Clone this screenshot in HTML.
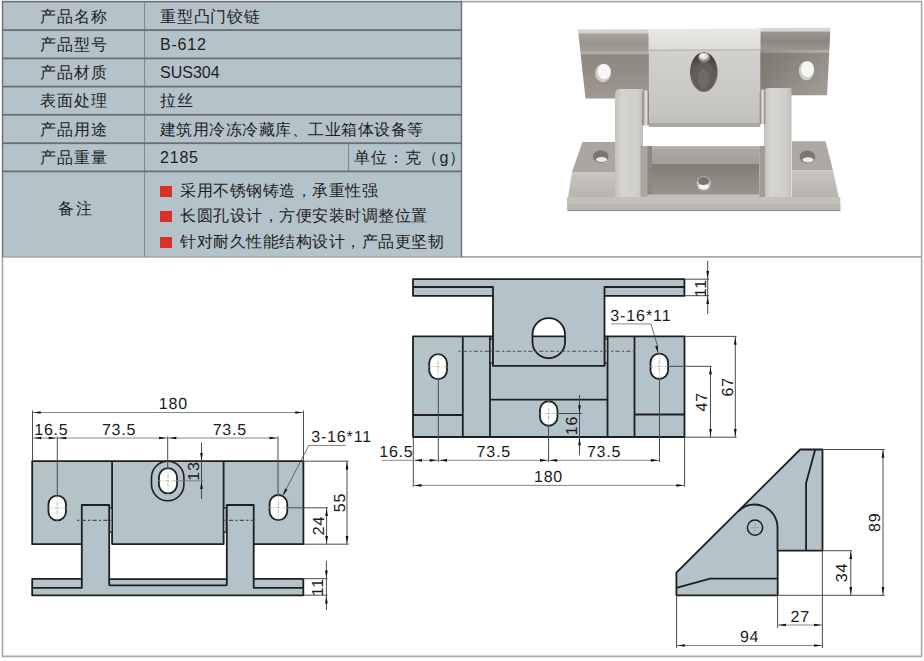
<!DOCTYPE html>
<html><head><meta charset="utf-8">
<style>
*{margin:0;padding:0;box-sizing:border-box}
html,body{width:924px;height:661px;overflow:hidden;background:#fff}
body{position:relative;font-family:"Liberation Sans",sans-serif;color:#1e1e1e;font-weight:350}
svg{position:absolute;left:0;top:0}
.c1{position:absolute;left:2px;width:142px;text-align:center;font-size:16px;white-space:nowrap;letter-spacing:1px;text-indent:1px;padding-top:1px}
.c2{position:absolute;left:160px;font-size:16px;white-space:nowrap;letter-spacing:0.8px;padding-top:1px}
.sq{display:inline-block;width:12px;height:11px;background:#d8322a;margin-right:8px;vertical-align:-1px}
</style></head><body>
<svg width="924" height="661" viewBox="0 0 924 661">
<!-- table background -->
<rect x="2" y="1.5" width="460" height="255.5" fill="#b4c2c9"/>
<!-- outer frame -->
<g fill="none" stroke="#a9a9a9" stroke-width="1.6">
<line x1="461" y1="1.6" x2="922" y2="1.6"/>
<line x1="921.6" y1="1" x2="921.6" y2="656.5"/>
<line x1="2.5" y1="256.8" x2="2.5" y2="656.5"/>
<line x1="2" y1="656.4" x2="922" y2="656.4"/>
<line x1="2" y1="256.9" x2="922" y2="256.9"/>
</g>
<!-- table lines -->
<g fill="#868b8f">
<rect x="144" y="1" width="1.1" height="256"/>
<rect x="348" y="143" width="1.1" height="28"/>
</g>
<g fill="#6a6f73">
<rect x="2" y="0.8" width="460" height="1.6"/>
<rect x="2" y="29.2" width="460" height="1.8"/>
<rect x="2" y="57.5" width="460" height="1.8"/>
<rect x="2" y="85.7" width="460" height="1.8"/>
<rect x="2" y="113.9" width="460" height="1.8"/>
<rect x="2" y="142.3" width="460" height="1.8"/>
<rect x="2" y="170.5" width="460" height="1.8"/>
<rect x="1.8" y="1" width="1.4" height="256"/>
<rect x="460.8" y="1" width="1.4" height="256"/>
</g>
<g font-family="Liberation Sans, sans-serif" text-rendering="geometricPrecision">
<defs>
<linearGradient id="gFlL" x1="0" y1="0" x2="0" y2="1">
 <stop offset="0" stop-color="#a9a49c"/><stop offset="0.15" stop-color="#98938b"/><stop offset="0.27" stop-color="#a29d95"/><stop offset="0.3" stop-color="#bab6af"/><stop offset="0.34" stop-color="#8d877f"/><stop offset="0.6" stop-color="#928d85"/><stop offset="1" stop-color="#9e9992"/></linearGradient>
<linearGradient id="gFlR" x1="0" y1="0" x2="0" y2="1">
 <stop offset="0" stop-color="#9a958e"/><stop offset="0.15" stop-color="#8c8780"/><stop offset="0.28" stop-color="#99948c"/><stop offset="0.31" stop-color="#b3afa8"/><stop offset="0.35" stop-color="#8a847c"/><stop offset="0.6" stop-color="#8f8a82"/><stop offset="1" stop-color="#9a958e"/></linearGradient>
<linearGradient id="gFlRh" x1="0" y1="0" x2="1" y2="0">
 <stop offset="0" stop-color="#6a645c" stop-opacity="0.45"/><stop offset="0.45" stop-color="#6a645c" stop-opacity="0.1"/><stop offset="1" stop-color="#ffffff" stop-opacity="0.1"/></linearGradient>
<linearGradient id="gBlk" x1="0" y1="0" x2="0" y2="1">
 <stop offset="0" stop-color="#d3d1ce"/><stop offset="0.5" stop-color="#cbc9c6"/><stop offset="0.85" stop-color="#c6c4c1"/><stop offset="1" stop-color="#bdbbb7"/></linearGradient>
<linearGradient id="gWash" x1="0" y1="0" x2="1" y2="0">
 <stop offset="0" stop-color="#6d6963"/><stop offset="0.3" stop-color="#c9c6c2"/><stop offset="0.6" stop-color="#e2e0dd"/><stop offset="1" stop-color="#77736d"/></linearGradient>
<linearGradient id="gTop" x1="0" y1="0" x2="0" y2="1">
 <stop offset="0" stop-color="#eae8e5"/><stop offset="1" stop-color="#dcdad6"/></linearGradient>
<linearGradient id="gLeg" x1="0" y1="0" x2="1" y2="0">
 <stop offset="0" stop-color="#c4c1bc"/><stop offset="0.25" stop-color="#d6d4d0"/><stop offset="0.8" stop-color="#d0cecb"/><stop offset="1" stop-color="#bfbcb7"/></linearGradient>
<linearGradient id="gFloor" x1="0" y1="0" x2="0" y2="1">
 <stop offset="0" stop-color="#817c75"/><stop offset="1" stop-color="#9a958e"/></linearGradient>
<linearGradient id="gBack" x1="0" y1="0" x2="0" y2="1">
 <stop offset="0" stop-color="#bdb9b3"/><stop offset="0.2" stop-color="#aca8a2"/><stop offset="1" stop-color="#a29e98"/></linearGradient>
<linearGradient id="gBev" x1="0" y1="0" x2="0" y2="1">
 <stop offset="0" stop-color="#c9c6c1"/><stop offset="1" stop-color="#b2aea8"/></linearGradient>
<linearGradient id="gSlot" x1="0" y1="0" x2="0" y2="1">
 <stop offset="0" stop-color="#3a3632"/><stop offset="0.35" stop-color="#58534d"/><stop offset="1" stop-color="#77726b"/></linearGradient>
</defs>
<polygon points="578,29.5 650,29.2 650,33.5 578.3,33.5" fill="#d6d3ce"/>
<polygon points="757.7,28 830.3,27.7 830.3,31.8 757.7,31.8" fill="#d9d6d1"/>
<polygon points="578.3,33.3 649.5,33.3 649.5,98.5 585.5,98.5" fill="url(#gFlL)"/>
<polygon points="757.7,31.6 830.3,31.6 827.1,95.3 757.7,95.3" fill="url(#gFlR)"/>
<polygon points="757.7,50 830.3,50 827.1,95.3 757.7,95.3" fill="url(#gFlRh)"/>
<ellipse cx="603" cy="73" rx="7.9" ry="9.3" fill="#cfccc7"/>
<ellipse cx="604.2" cy="71.6" rx="6.6" ry="7.6" fill="#f6f6f6"/>
<ellipse cx="806.5" cy="70.6" rx="7.7" ry="9.7" fill="#cfccc7"/>
<ellipse cx="807.5" cy="69.2" rx="6.5" ry="8" fill="#f6f6f6"/>
<polygon points="648.5,29 760.5,28.5 760.5,50 648.5,50.5" fill="url(#gTop)"/>
<rect x="648.8" y="50" width="111.5" height="77" fill="url(#gBlk)"/>
<line x1="648.8" y1="50.3" x2="760.3" y2="49.8" stroke="#b0ada8" stroke-width="1"/>
<ellipse cx="703.8" cy="72.1" rx="13.8" ry="19.8" fill="url(#gSlot)"/>
<ellipse cx="703.8" cy="76.5" rx="11" ry="14.5" fill="#625d56"/>
<ellipse cx="703.5" cy="79" rx="6" ry="10" fill="#6e6962"/>
<ellipse cx="704.2" cy="57.5" rx="6" ry="5" fill="#8d8984"/>
<ellipse cx="703.6" cy="56.3" rx="4.6" ry="3.6" fill="#dcdbd9"/>
<ellipse cx="703" cy="55.6" rx="2.4" ry="1.8" fill="#f7f7f7"/>
<rect x="649" y="123" width="111" height="4" fill="#aaa6a0"/>
<polygon points="646,146 765,146 765,164 646,164" fill="url(#gBack)"/>
<polygon points="646,164 765,164 765,197 646,197" fill="url(#gFloor)"/>
<polygon points="646,146 652,146 652,197 646,197" fill="#8c8780"/>
<rect x="646" y="194.5" width="119" height="3" fill="#c2bfba"/>
<polygon points="759,146 765,146 765,197 759,197" fill="#b1ada7"/>
<ellipse cx="703.7" cy="183.5" rx="7" ry="7.3" fill="#c4c1bc"/>
<ellipse cx="703.7" cy="186.5" rx="5" ry="2.8" fill="#f3f3f3"/>
<ellipse cx="703.7" cy="181" rx="5.5" ry="4" fill="#77726b"/>
<polygon points="582.5,142 616,142 616,172 572,172" fill="#aaa6a0"/>
<polygon points="572,172 616,172 616,204 567,204" fill="url(#gBev)"/>
<ellipse cx="600.7" cy="156.5" rx="7.8" ry="6.2" fill="#7a756e"/>
<ellipse cx="601.5" cy="159.5" rx="5.5" ry="2.6" fill="#ebeae8"/>
<polygon points="792,141.2 825.5,141.2 833,170.6 792,170.6" fill="#aca8a2"/>
<polygon points="792,170.6 833,170.6 840.3,204 792,204" fill="url(#gBev)"/>
<ellipse cx="807.4" cy="156.8" rx="7.8" ry="6.4" fill="#7a756e"/>
<ellipse cx="808" cy="159.8" rx="5.5" ry="2.6" fill="#ebeae8"/>
<polygon points="567,197 840.3,197 840.3,210.5 567.5,210.5" fill="#c3c0bb"/>
<polygon points="567,204 840.3,204 840.3,210.5 567.5,210.5" fill="#bab7b2"/>
<line x1="567.5" y1="210.6" x2="840.3" y2="210.6" stroke="#8a8680" stroke-width="1"/>
<path d="M615,197 L615,94 Q615,89 620,89 L643,89 L643,197 Z" fill="url(#gLeg)"/>
<rect x="640.5" y="146" width="7" height="51" fill="#a9a59f"/>
<path d="M764,197 L764,93 Q764,88 769,88 L791.5,88 L791.5,197 Z" fill="url(#gLeg)"/>
<rect x="760" y="146" width="5" height="51" fill="#9f9b95"/>
<rect x="642.5" y="90.5" width="6.5" height="35" rx="1.5" fill="url(#gWash)"/>
<rect x="759.8" y="89.5" width="5.5" height="35" rx="1.5" fill="url(#gWash)"/>
<polygon points="32.2,461.2 303.4,461.2 303.4,544.2 32.2,544.2" fill="#b4c2c9" stroke="#1f1f1f" stroke-width="1.8" stroke-linejoin="round"/>
<rect x="109.5" y="532.3" width="2.2" height="12.8" fill="#fff"/>
<rect x="224.2" y="532.3" width="2.2" height="12.8" fill="#fff"/>
<line x1="112.1" y1="461.2" x2="112.1" y2="544.2" stroke="#1f1f1f" stroke-width="1.8" />
<line x1="223.6" y1="461.2" x2="223.6" y2="544.2" stroke="#1f1f1f" stroke-width="1.8" />
<rect x="109.3" y="508" width="2.8" height="24.2" fill="#b4c2c9" stroke="#1f1f1f" stroke-width="1.2"/>
<rect x="223.6" y="508" width="2.8" height="24.2" fill="#b4c2c9" stroke="#1f1f1f" stroke-width="1.2"/>
<polygon points="32.2,578.8 81.8,578.8 81.8,505 109.2,505 109.2,579.2 226.8,579.2 226.8,505 253.7,505 253.7,578.8 303.3,578.8 303.3,595.3 32.2,595.3" fill="#b4c2c9" stroke="#1f1f1f" stroke-width="1.8" stroke-linejoin="round"/>
<line x1="32.2" y1="587.9" x2="81.8" y2="587.9" stroke="#1f1f1f" stroke-width="1.8" />
<line x1="81.8" y1="578" x2="81.8" y2="588.4" stroke="#1f1f1f" stroke-width="1.8" />
<line x1="109.2" y1="579" x2="109.2" y2="585.5" stroke="#1f1f1f" stroke-width="1.8" />
<line x1="109.2" y1="585.3" x2="226.8" y2="585.3" stroke="#1f1f1f" stroke-width="1.8" />
<line x1="226.8" y1="579" x2="226.8" y2="585.5" stroke="#1f1f1f" stroke-width="1.8" />
<line x1="253.7" y1="578" x2="253.7" y2="588.4" stroke="#1f1f1f" stroke-width="1.8" />
<line x1="253.7" y1="587.9" x2="303.3" y2="587.9" stroke="#1f1f1f" stroke-width="1.8" />
<line x1="77.1" y1="520.4" x2="111" y2="520.4" stroke="#4e4e4e" stroke-width="1.1" stroke-dasharray="2.2 2.2 4.3 2.2"/>
<line x1="224.5" y1="520.4" x2="257.2" y2="520.4" stroke="#4e4e4e" stroke-width="1.1" stroke-dasharray="2.2 2.2 4.3 2.2"/>
<rect x="151.5" y="461.3" width="32.4" height="39.5" rx="16.2" ry="16.2" fill="#b4c2c9" stroke="#1f1f1f" stroke-width="1.6"/>
<rect x="158.90" y="468.15" width="18.2" height="25.3" rx="9.10" ry="9.10" fill="#fff" stroke="#1f1f1f" stroke-width="1.8"/>
<line x1="157.40" y1="480.8" x2="178.60" y2="480.8" stroke="#9a9a9a" stroke-width="0.7" stroke-dasharray="4 1.5 1 1.5"/>
<line x1="168.0" y1="466.65" x2="168.0" y2="494.95" stroke="#9a9a9a" stroke-width="0.7" stroke-dasharray="4 1.5 1 1.5"/>
<rect x="48.45" y="495.60" width="17.5" height="24.8" rx="8.75" ry="8.75" fill="#fff" stroke="#1f1f1f" stroke-width="1.8"/>
<line x1="46.95" y1="508.0" x2="67.45" y2="508.0" stroke="#9a9a9a" stroke-width="0.7" stroke-dasharray="4 1.5 1 1.5"/>
<line x1="57.2" y1="494.10" x2="57.2" y2="521.90" stroke="#9a9a9a" stroke-width="0.7" stroke-dasharray="4 1.5 1 1.5"/>
<rect x="269.55" y="495.00" width="17.7" height="25.2" rx="8.85" ry="8.85" fill="#fff" stroke="#1f1f1f" stroke-width="1.8"/>
<line x1="268.05" y1="507.6" x2="288.75" y2="507.6" stroke="#9a9a9a" stroke-width="0.7" stroke-dasharray="4 1.5 1 1.5"/>
<line x1="278.4" y1="493.50" x2="278.4" y2="521.70" stroke="#9a9a9a" stroke-width="0.7" stroke-dasharray="4 1.5 1 1.5"/>
<line x1="32.5" y1="410.5" x2="32.5" y2="461" stroke="#4a4a4a" stroke-width="1.0" />
<line x1="303.5" y1="410.5" x2="303.5" y2="461" stroke="#4a4a4a" stroke-width="1.0" />
<line x1="32.5" y1="412.5" x2="303.5" y2="412.5" stroke="#7a7a7a" stroke-width="0.9" />
<polygon points="33.20,412.50 40.70,411.15 40.70,413.85" fill="#111"/>
<polygon points="302.80,412.50 295.30,413.85 295.30,411.15" fill="#111"/>
<text x="173.3" y="409.2" text-anchor="middle" font-size="16" letter-spacing="0.8" fill="#1a1a1a">180</text>
<line x1="32.5" y1="438" x2="278" y2="438" stroke="#7a7a7a" stroke-width="0.9" />
<line x1="57.3" y1="436.5" x2="57.3" y2="496" stroke="#4a4a4a" stroke-width="1.0" />
<line x1="167.7" y1="436.5" x2="167.7" y2="468" stroke="#4a4a4a" stroke-width="1.0" />
<line x1="278.0" y1="436.5" x2="278.0" y2="495" stroke="#4a4a4a" stroke-width="1.0" />
<polygon points="33.80,438.00 41.30,436.65 41.30,439.35" fill="#111"/>
<polygon points="56.20,438.00 48.70,439.35 48.70,436.65" fill="#111"/>
<polygon points="58.60,438.00 66.10,436.65 66.10,439.35" fill="#111"/>
<polygon points="166.60,438.00 159.10,439.35 159.10,436.65" fill="#111"/>
<polygon points="168.80,438.00 176.30,436.65 176.30,439.35" fill="#111"/>
<polygon points="277.00,438.00 269.50,439.35 269.50,436.65" fill="#111"/>
<text x="51.4" y="434.7" text-anchor="middle" font-size="16" letter-spacing="0.8" fill="#1a1a1a">16.5</text>
<text x="119.1" y="434.7" text-anchor="middle" font-size="16" letter-spacing="0.8" fill="#1a1a1a">73.5</text>
<text x="229.8" y="434.7" text-anchor="middle" font-size="16" letter-spacing="0.8" fill="#1a1a1a">73.5</text>
<line x1="201.5" y1="442.8" x2="201.5" y2="499" stroke="#4a4a4a" stroke-width="1.0" />
<line x1="177" y1="480.8" x2="203.6" y2="480.8" stroke="#7a7a7a" stroke-width="0.9" />
<polygon points="201.50,460.40 200.15,452.90 202.85,452.90" fill="#111"/>
<polygon points="201.50,481.60 202.85,489.10 200.15,489.10" fill="#111"/>
<text transform="translate(198.7,471) rotate(-90)" text-anchor="middle" font-size="16" letter-spacing="0.8" fill="#1a1a1a">13</text>
<text x="311.2" y="441.6" text-anchor="start" font-size="16" letter-spacing="0.85" fill="#1a1a1a">3-16*11</text>
<line x1="309" y1="445.5" x2="345.7" y2="445.5" stroke="#7a7a7a" stroke-width="0.9" />
<line x1="309" y1="445.1" x2="283.6" y2="494.2" stroke="#4a4a4a" stroke-width="0.8" />
<polygon points="282.80,495.80 285.05,488.52 287.45,489.76" fill="#111"/>
<line x1="303.5" y1="461.2" x2="348.6" y2="461.2" stroke="#4a4a4a" stroke-width="1.0" />
<line x1="303.5" y1="544.2" x2="348.6" y2="544.2" stroke="#4a4a4a" stroke-width="1.0" />
<line x1="347" y1="461.2" x2="347" y2="544.2" stroke="#4a4a4a" stroke-width="1.0" />
<polygon points="347.00,462.00 348.35,469.50 345.65,469.50" fill="#111"/>
<polygon points="347.00,543.40 345.65,535.90 348.35,535.90" fill="#111"/>
<text transform="translate(344.7,502.5) rotate(-90)" text-anchor="middle" font-size="16" letter-spacing="0.8" fill="#1a1a1a">55</text>
<line x1="287.3" y1="507.8" x2="328" y2="507.8" stroke="#4a4a4a" stroke-width="1.0" />
<line x1="326.6" y1="507.8" x2="326.6" y2="544.2" stroke="#4a4a4a" stroke-width="1.0" />
<polygon points="326.60,508.60 327.95,516.10 325.25,516.10" fill="#111"/>
<polygon points="326.60,543.40 325.25,535.90 327.95,535.90" fill="#111"/>
<text transform="translate(323.6,525.6) rotate(-90)" text-anchor="middle" font-size="16" letter-spacing="0.8" fill="#1a1a1a">24</text>
<line x1="303.3" y1="578.7" x2="327.5" y2="578.7" stroke="#4a4a4a" stroke-width="1.0" />
<line x1="303.3" y1="595.2" x2="327.5" y2="595.2" stroke="#4a4a4a" stroke-width="1.0" />
<line x1="326.4" y1="560.8" x2="326.4" y2="610" stroke="#4a4a4a" stroke-width="1.0" />
<polygon points="326.40,578.00 325.05,570.50 327.75,570.50" fill="#111"/>
<polygon points="326.40,596.00 327.75,603.50 325.05,603.50" fill="#111"/>
<text transform="translate(323.1,587.2) rotate(-90)" text-anchor="middle" font-size="16" letter-spacing="0.8" fill="#1a1a1a">11</text>
<polygon points="413,336.4 684.5,336.4 684.5,437 413,437" fill="#b4c2c9" stroke="#1f1f1f" stroke-width="1.8" stroke-linejoin="round"/>
<line x1="462.8" y1="336.4" x2="462.8" y2="437" stroke="#1f1f1f" stroke-width="1.8" />
<line x1="490" y1="336.4" x2="490" y2="437" stroke="#1f1f1f" stroke-width="1.8" />
<line x1="607.5" y1="336.4" x2="607.5" y2="437" stroke="#1f1f1f" stroke-width="1.8" />
<line x1="634.5" y1="336.4" x2="634.5" y2="437" stroke="#1f1f1f" stroke-width="1.8" />
<line x1="413" y1="415" x2="462.8" y2="415" stroke="#1f1f1f" stroke-width="1.8" />
<line x1="634.5" y1="414.5" x2="684.5" y2="414.5" stroke="#1f1f1f" stroke-width="1.8" />
<line x1="490" y1="399.7" x2="607.5" y2="399.7" stroke="#1f1f1f" stroke-width="1.8" />
<rect x="490" y="339" width="3" height="24" fill="#b4c2c9" stroke="#1f1f1f" stroke-width="1.2"/>
<rect x="604.5" y="339" width="3" height="24" fill="#b4c2c9" stroke="#1f1f1f" stroke-width="1.2"/>
<polygon points="413,279.2 684.4,279.2 684.4,295.8 604.5,295.8 604.5,365.8 493,365.8 493,295.8 413,295.8" fill="#b4c2c9" stroke="#1f1f1f" stroke-width="1.8" stroke-linejoin="round"/>
<line x1="413" y1="287" x2="493" y2="287" stroke="#1f1f1f" stroke-width="1.8" />
<line x1="493" y1="286.2" x2="493" y2="296.5" stroke="#1f1f1f" stroke-width="1.8" />
<line x1="604.5" y1="287" x2="684.4" y2="287" stroke="#1f1f1f" stroke-width="1.8" />
<line x1="604.5" y1="286.2" x2="604.5" y2="296.5" stroke="#1f1f1f" stroke-width="1.8" />
<clipPath id="bs"><rect x="532.5" y="318.2" width="32.5" height="40" rx="16.25" ry="16.25"/></clipPath>
<rect x="532.5" y="318.2" width="32.5" height="18.2" fill="#fff" clip-path="url(#bs)"/>
<rect x="532.5" y="318.2" width="32.5" height="40" rx="16.25" ry="16.25" fill="none" stroke="#1f1f1f" stroke-width="1.8"/>
<line x1="532.5" y1="336.3" x2="565" y2="336.3" stroke="#1f1f1f" stroke-width="1.8" />
<line x1="458.4" y1="351.3" x2="637" y2="351.3" stroke="#4e4e4e" stroke-width="1.1" stroke-dasharray="2.2 2.2 4.3 2.2"/>
<rect x="429.20" y="354.20" width="17.8" height="25" rx="8.90" ry="8.90" fill="#fff" stroke="#1f1f1f" stroke-width="1.8"/>
<line x1="427.70" y1="366.7" x2="448.50" y2="366.7" stroke="#9a9a9a" stroke-width="0.7" stroke-dasharray="4 1.5 1 1.5"/>
<line x1="438.1" y1="352.70" x2="438.1" y2="380.70" stroke="#9a9a9a" stroke-width="0.7" stroke-dasharray="4 1.5 1 1.5"/>
<rect x="650.50" y="353.60" width="17.6" height="25.4" rx="8.80" ry="8.80" fill="#fff" stroke="#1f1f1f" stroke-width="1.8"/>
<line x1="649.00" y1="366.3" x2="669.60" y2="366.3" stroke="#9a9a9a" stroke-width="0.7" stroke-dasharray="4 1.5 1 1.5"/>
<line x1="659.3" y1="352.10" x2="659.3" y2="380.50" stroke="#9a9a9a" stroke-width="0.7" stroke-dasharray="4 1.5 1 1.5"/>
<rect x="539.95" y="401.25" width="17.5" height="24.5" rx="8.75" ry="8.75" fill="#fff" stroke="#1f1f1f" stroke-width="1.8"/>
<line x1="538.45" y1="413.5" x2="558.95" y2="413.5" stroke="#9a9a9a" stroke-width="0.7" stroke-dasharray="4 1.5 1 1.5"/>
<line x1="548.7" y1="399.75" x2="548.7" y2="427.25" stroke="#9a9a9a" stroke-width="0.7" stroke-dasharray="4 1.5 1 1.5"/>
<line x1="684.4" y1="279.2" x2="709" y2="279.2" stroke="#4a4a4a" stroke-width="1.0" />
<line x1="684.4" y1="295.7" x2="709" y2="295.7" stroke="#4a4a4a" stroke-width="1.0" />
<line x1="707.7" y1="261" x2="707.7" y2="313.9" stroke="#4a4a4a" stroke-width="1.0" />
<polygon points="707.70,278.50 706.35,271.00 709.05,271.00" fill="#111"/>
<polygon points="707.70,296.40 709.05,303.90 706.35,303.90" fill="#111"/>
<text transform="translate(706,288.1) rotate(-90)" text-anchor="middle" font-size="16" letter-spacing="0.8" fill="#1a1a1a">11</text>
<text x="610.3" y="320.8" text-anchor="start" font-size="16" letter-spacing="0.9" fill="#1a1a1a">3-16*11</text>
<line x1="611" y1="323.9" x2="651" y2="323.9" stroke="#7a7a7a" stroke-width="0.9" />
<line x1="651" y1="323.9" x2="657.5" y2="346" stroke="#4a4a4a" stroke-width="0.8" />
<polygon points="658.20,353.30 655.10,346.34 657.73,345.69" fill="#111"/>
<line x1="684.5" y1="336.4" x2="736.6" y2="336.4" stroke="#4a4a4a" stroke-width="1.0" />
<line x1="684.5" y1="437.2" x2="736.6" y2="437.2" stroke="#4a4a4a" stroke-width="1.0" />
<line x1="735.3" y1="336.4" x2="735.3" y2="437.2" stroke="#4a4a4a" stroke-width="1.0" />
<polygon points="735.30,337.20 736.65,344.70 733.95,344.70" fill="#111"/>
<polygon points="735.30,436.40 733.95,428.90 736.65,428.90" fill="#111"/>
<text transform="translate(732.7,386.8) rotate(-90)" text-anchor="middle" font-size="16" letter-spacing="0.8" fill="#1a1a1a">67</text>
<line x1="668" y1="366.3" x2="711.7" y2="366.3" stroke="#4a4a4a" stroke-width="1.0" />
<line x1="710.5" y1="366.3" x2="710.5" y2="437.2" stroke="#4a4a4a" stroke-width="1.0" />
<polygon points="710.50,367.10 711.85,374.60 709.15,374.60" fill="#111"/>
<polygon points="710.50,436.40 709.15,428.90 711.85,428.90" fill="#111"/>
<text transform="translate(707.2,401.8) rotate(-90)" text-anchor="middle" font-size="16" letter-spacing="0.8" fill="#1a1a1a">47</text>
<line x1="557.5" y1="413.5" x2="582" y2="413.5" stroke="#4a4a4a" stroke-width="1.0" />
<line x1="579.5" y1="395" x2="579.5" y2="455.3" stroke="#4a4a4a" stroke-width="1.0" />
<polygon points="579.50,412.80 578.15,405.30 580.85,405.30" fill="#111"/>
<polygon points="579.50,437.80 580.85,445.30 578.15,445.30" fill="#111"/>
<text transform="translate(577,425.5) rotate(-90)" text-anchor="middle" font-size="16" letter-spacing="0.8" fill="#1a1a1a">16</text>
<line x1="413.3" y1="437" x2="413.3" y2="487" stroke="#4a4a4a" stroke-width="1.0" />
<line x1="438.3" y1="380" x2="438.3" y2="462" stroke="#4a4a4a" stroke-width="1.0" />
<line x1="548.6" y1="426" x2="548.6" y2="462" stroke="#4a4a4a" stroke-width="1.0" />
<line x1="659.5" y1="380" x2="659.5" y2="462" stroke="#4a4a4a" stroke-width="1.0" />
<line x1="684.6" y1="437" x2="684.6" y2="487" stroke="#4a4a4a" stroke-width="1.0" />
<line x1="382" y1="460.3" x2="659.5" y2="460.3" stroke="#7a7a7a" stroke-width="0.9" />
<polygon points="414.50,460.30 422.00,458.95 422.00,461.65" fill="#111"/>
<polygon points="437.20,460.30 429.70,461.65 429.70,458.95" fill="#111"/>
<polygon points="439.50,460.30 447.00,458.95 447.00,461.65" fill="#111"/>
<polygon points="547.50,460.30 540.00,461.65 540.00,458.95" fill="#111"/>
<polygon points="549.70,460.30 557.20,458.95 557.20,461.65" fill="#111"/>
<polygon points="658.40,460.30 650.90,461.65 650.90,458.95" fill="#111"/>
<text x="396.4" y="457.4" text-anchor="middle" font-size="16" letter-spacing="0.8" fill="#1a1a1a">16.5</text>
<text x="493.7" y="457.4" text-anchor="middle" font-size="16" letter-spacing="0.8" fill="#1a1a1a">73.5</text>
<text x="604.1" y="457.4" text-anchor="middle" font-size="16" letter-spacing="0.8" fill="#1a1a1a">73.5</text>
<line x1="413.3" y1="485.4" x2="684.6" y2="485.4" stroke="#7a7a7a" stroke-width="0.9" />
<polygon points="414.00,485.40 421.50,484.05 421.50,486.75" fill="#111"/>
<polygon points="683.90,485.40 676.40,486.75 676.40,484.05" fill="#111"/>
<text x="548.5" y="481.7" text-anchor="middle" font-size="16" letter-spacing="0.8" fill="#1a1a1a">180</text>
<polygon points="676.4,595.3 676.4,572.6 800.2,449.5 822.5,449.5 822.5,550.7 777.7,550.7 777.7,595.3" fill="#b4c2c9" stroke="#1f1f1f" stroke-width="1.8" stroke-linejoin="round"/>
<path d="M815.2,449.5 L806.1,483.1 L806.1,550.7" fill="none" stroke="#1f1f1f" stroke-width="1.8" stroke-linejoin="round"/>
<path d="M676.4,587.8 L710.1,578.7 L777.7,578.7" fill="none" stroke="#1f1f1f" stroke-width="1.8" stroke-linejoin="round"/>
<path d="M738.41,511.21 A22.9,22.9 0 0 1 777.5,527.4 L777.5,551" fill="none" stroke="#1f1f1f" stroke-width="1.8" stroke-linejoin="round"/>
<circle cx="755" cy="527.7" r="7.6" fill="none" stroke="#1f1f1f" stroke-width="1.5"/>
<line x1="751" y1="527.7" x2="759" y2="527.7" stroke="#8a8a8a" stroke-width="0.7" stroke-dasharray="2 1"/>
<line x1="755" y1="523.7" x2="755" y2="531.7" stroke="#8a8a8a" stroke-width="0.7" stroke-dasharray="2 1"/>
<line x1="822.5" y1="449.5" x2="884.7" y2="449.5" stroke="#4a4a4a" stroke-width="1.0" />
<line x1="777.7" y1="595.3" x2="884.7" y2="595.3" stroke="#4a4a4a" stroke-width="1.0" />
<line x1="883" y1="449.5" x2="883" y2="595.3" stroke="#4a4a4a" stroke-width="1.0" />
<polygon points="883.00,450.30 884.35,457.80 881.65,457.80" fill="#111"/>
<polygon points="883.00,594.50 881.65,587.00 884.35,587.00" fill="#111"/>
<text transform="translate(880,522.3) rotate(-90)" text-anchor="middle" font-size="16" letter-spacing="0.8" fill="#1a1a1a">89</text>
<line x1="822.5" y1="550.7" x2="852" y2="550.7" stroke="#4a4a4a" stroke-width="1.0" />
<line x1="850.8" y1="550.7" x2="850.8" y2="595.3" stroke="#4a4a4a" stroke-width="1.0" />
<polygon points="850.80,551.50 852.15,559.00 849.45,559.00" fill="#111"/>
<polygon points="850.80,594.50 849.45,587.00 852.15,587.00" fill="#111"/>
<text transform="translate(847.2,572.5) rotate(-90)" text-anchor="middle" font-size="16" letter-spacing="0.8" fill="#1a1a1a">34</text>
<line x1="822.4" y1="550.7" x2="822.4" y2="648" stroke="#4a4a4a" stroke-width="1.0" />
<line x1="777.6" y1="595.3" x2="777.6" y2="628" stroke="#4a4a4a" stroke-width="1.0" />
<line x1="676.6" y1="595.3" x2="676.6" y2="648" stroke="#4a4a4a" stroke-width="1.0" />
<line x1="777.6" y1="625" x2="822.4" y2="625" stroke="#7a7a7a" stroke-width="0.9" />
<polygon points="778.40,625.00 785.90,623.65 785.90,626.35" fill="#111"/>
<polygon points="821.60,625.00 814.10,626.35 814.10,623.65" fill="#111"/>
<text x="800.2" y="621.6" text-anchor="middle" font-size="16" letter-spacing="0.8" fill="#1a1a1a">27</text>
<line x1="676.6" y1="645.5" x2="822.4" y2="645.5" stroke="#7a7a7a" stroke-width="0.9" />
<polygon points="677.40,645.50 684.90,644.15 684.90,646.85" fill="#111"/>
<polygon points="821.60,645.50 814.10,646.85 814.10,644.15" fill="#111"/>
<text x="749.6" y="642.2" text-anchor="middle" font-size="16" letter-spacing="0.8" fill="#1a1a1a">94</text>
</g>
</svg>

<div class="c1" style="top:2px;height:28px;line-height:28px">产品名称</div>
<div class="c1" style="top:30px;height:28px;line-height:28px">产品型号</div>
<div class="c1" style="top:58px;height:28px;line-height:28px">产品材质</div>
<div class="c1" style="top:86px;height:28px;line-height:28px">表面处理</div>
<div class="c1" style="top:115px;height:28px;line-height:28px">产品用途</div>
<div class="c1" style="top:143px;height:28px;line-height:28px">产品重量</div>
<div class="c1" style="top:194px;height:28px;line-height:28px;letter-spacing:1.7px;text-indent:6.2px">备注</div>

<div class="c2" style="top:2px;height:28px;line-height:28px">重型凸门铰链</div>
<div class="c2" style="top:30px;height:28px;line-height:28px">B-612</div>
<div class="c2" style="top:58px;height:28px;line-height:28px;letter-spacing:0">SUS304</div>
<div class="c2" style="top:86px;height:28px;line-height:28px">拉丝</div>
<div class="c2" style="top:115px;height:28px;line-height:28px;letter-spacing:0.47px">建筑用冷冻冷藏库、工业箱体设备等</div>
<div class="c2" style="top:143px;height:28px;line-height:28px">2185</div>
<div class="c2" style="left:354px;top:143px;height:28px;line-height:28px;letter-spacing:1.1px">单位：克（g）</div>
<div class="c2" style="top:177px;height:26px;line-height:26px;letter-spacing:0.5px"><span class="sq"></span>采用不锈钢铸造，承重性强</div>
<div class="c2" style="top:202px;height:26px;line-height:26px;letter-spacing:0.5px"><span class="sq"></span>长圆孔设计，方便安装时调整位置</div>
<div class="c2" style="top:228px;height:26px;line-height:26px;letter-spacing:0.5px"><span class="sq"></span>针对耐久性能结构设计，产品更坚韧</div>

</body></html>
